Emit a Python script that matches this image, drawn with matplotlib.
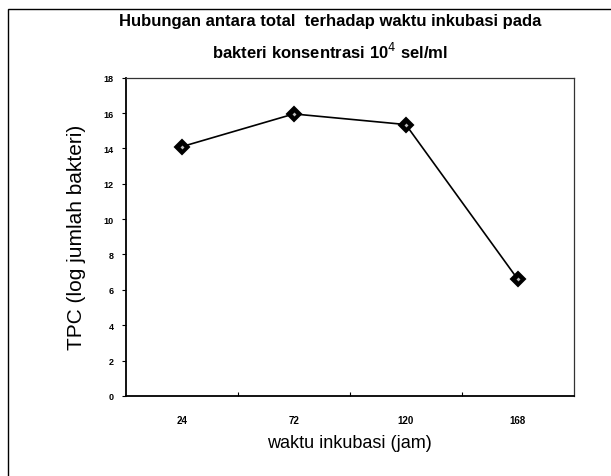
import matplotlib
matplotlib.use("Agg")
import matplotlib.pyplot as plt
from matplotlib.patches import Rectangle

plt.rcParams["font.family"] = ["Liberation Sans", "DejaVu Sans"]

waktu_labels = ["24", "72", "120", "168"]
tpc_log = [14.1, 15.95, 15.35, 6.6]
y_ticks = [0, 2, 4, 6, 8, 10, 12, 14, 16, 18]

fig = plt.figure(figsize=(6.11, 4.77), dpi=100)

# outer frame of the scanned chart
fig.patches.append(Rectangle((8 / 611, -0.1), 1.2, 1.1 - 10 / 477,
                             transform=fig.transFigure, fill=False,
                             edgecolor="black", lw=1.0))

ax = fig.add_axes([0.206, 0.168, 0.733, 0.667])
x = list(range(len(waktu_labels)))
ax.plot(x, tpc_log, color="black", lw=1.2, marker="D", markersize=7,
        markerfacecolor="black", markeredgecolor="black", markeredgewidth=1.5)
# small light centre seen inside each diamond
ax.plot(x, tpc_log, linestyle="none", marker="D", markersize=2,
        markerfacecolor="#bbbbbb", markeredgewidth=0)

ax.set_xlim(-0.5, len(waktu_labels) - 0.5)
ax.set_ylim(0, 18)
ax.set_yticks(y_ticks)
ax.set_yticklabels([str(v) for v in y_ticks], fontsize=6.5, fontweight="bold")
ax.set_xticks(x)
ax.set_xticklabels(waktu_labels, fontsize=7, fontweight="bold")
ax.tick_params(axis="x", length=0, pad=14)
ax.set_xticks([i + 0.5 for i in x[:-1]], minor=True)
ax.tick_params(axis="x", which="minor", direction="in", length=3, width=0.8)
ax.tick_params(axis="y", direction="out", length=3, width=0.8, pad=6)

for side in ["left", "bottom"]:
    ax.spines[side].set_linewidth(1.3)
for side in ["top", "right"]:
    ax.spines[side].set_linewidth(0.9)
    ax.spines[side].set_color("#333333")

ax.set_xlabel("waktu inkubasi (jam)", fontsize=13, labelpad=6)
ax.set_ylabel("TPC (log jumlah bakteri)", fontsize=15, labelpad=12)

fig.text(0.54, 0.955, "Hubungan antara total  terhadap waktu inkubasi pada",
         ha="center", va="center", fontsize=12, fontweight="bold")
fig.text(0.54, 0.892, "bakteri konsentrasi 10$^{4}$ sel/ml",
         ha="center", va="center", fontsize=12, fontweight="bold")

fig.savefig("out.png", dpi=100)
